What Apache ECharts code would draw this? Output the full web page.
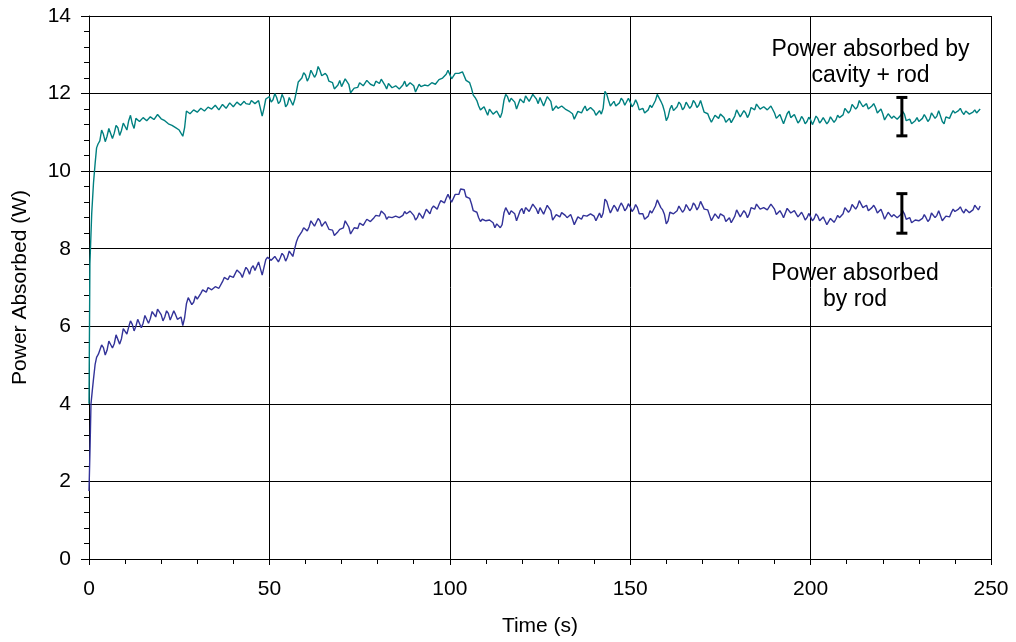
<!DOCTYPE html>
<html><head><meta charset="utf-8">
<script src="https://cdn.jsdelivr.net/npm/echarts@6/dist/echarts.min.js"></script>
<style>html,body{margin:0;padding:0;background:#fff}#c{width:1016px;height:642px}</style>
</head><body><div id="c"></div>
<script>
// Initial fast rise (times in s)
var startTimesTeal = [0, 0.25, 0.75, 1.25, 1.7, 2.1, 2.5];
var startTeal = [4.0, 7.6, 8.9, 9.7, 10.2, 10.6, 10.7];
var startTimesBlue = [0, 0.3, 0.55, 0.9, 1.2, 1.7, 2.1, 2.6];
var startBlue = [1.75, 2.9, 4.0, 4.33, 4.6, 5.02, 5.2, 5.28];
// Main record: values on whole seconds from t = 3 s to t = 247 s
var mainStartTime = 3;
var tealValues = [
10.78,10.95,10.9,11.05,10.98,11.12,11.05,11.2,11.3,11.22,
11.36,11.28,11.38,11.3,11.4,11.33,11.46,11.35,11.3,11.22,
11.18,11.12,11.06,10.9,11.55,11.48,11.58,11.52,11.62,11.55,
11.65,11.6,11.7,11.58,11.72,11.62,11.76,11.66,11.78,11.7,
11.8,11.7,11.82,11.74,11.82,11.42,11.86,11.92,11.84,11.9,
11.8,11.88,11.72,11.86,11.84,12.3,12.4,12.48,12.42,12.58,
12.5,12.6,12.5,12.46,12.3,12.12,12.22,12.18,12.38,12.24,
12.0,12.16,12.28,12.2,12.34,12.24,12.2,12.3,12.37,12.22,
12.26,12.15,12.2,12.12,12.22,12.18,12.28,12.2,12.08,12.18,
12.22,12.2,12.28,12.24,12.36,12.4,12.5,12.58,12.34,12.5,
12.56,12.52,12.3,12.14,11.9,11.68,11.62,11.55,11.6,11.47,
11.55,11.38,11.82,11.92,11.88,11.78,11.6,11.9,11.94,11.8,
11.98,11.86,11.9,11.68,11.92,11.8,11.56,11.62,11.68,11.6,
11.55,11.48,11.38,11.52,11.6,11.56,11.64,11.55,11.5,11.47,
12.06,11.82,11.74,11.68,11.76,11.82,11.75,11.78,11.72,11.74,
11.6,11.5,11.58,11.64,11.82,12.02,11.7,11.3,11.6,11.56,
11.66,11.72,11.64,11.74,11.68,11.76,11.7,11.78,11.48,11.36,
11.29,11.4,11.47,11.38,11.3,11.25,11.42,11.55,11.44,11.5,
11.47,11.62,11.73,11.6,11.66,11.58,11.68,11.5,11.4,11.34,
11.25,11.55,11.4,11.35,11.3,11.34,11.28,11.32,11.3,11.36,
11.3,11.33,11.28,11.35,11.32,11.38,11.45,11.62,11.56,11.7,
11.66,11.8,11.7,11.6,11.68,11.64,11.55,11.48,11.34,11.45,
11.42,11.34,11.44,11.47,11.32,11.22,11.3,11.28,11.36,11.38,
11.34,11.47,11.42,11.52,11.22,11.4,11.47,11.5,11.56,11.52,
11.55,11.47,11.52,11.5,11.6
];
// Half-second readings between them (t = 3.5 s ... 246.5 s)
var tealHalf = [
11.06,10.76,11.1,10.84,11.18,10.92,11.24,11.06,11.44,11.1,
11.38,11.32,11.34,11.34,11.38,11.36,11.42,11.32,11.32,11.18,
11.18,11.08,11.08,11.12,11.53,11.52,11.58,11.52,11.58,11.58,
11.62,11.6,11.68,11.58,11.68,11.66,11.72,11.68,11.74,11.7,
11.74,11.72,11.8,11.76,11.78,11.62,11.88,11.78,12.0,11.74,
11.98,11.66,11.9,11.7,12.06,12.28,12.54,12.32,12.6,12.42,
12.7,12.46,12.52,12.32,12.28,12.08,12.34,12.22,12.38,12.02,
12.14,12.16,12.3,12.22,12.34,12.22,12.32,12.26,12.38,12.12,
12.3,12.12,12.22,12.12,12.32,12.18,12.3,12.04,12.24,12.14,
12.24,12.18,12.3,12.24,12.38,12.38,12.6,12.38,12.52,12.52,
12.56,12.34,12.28,11.96,11.82,11.58,11.66,11.44,11.64,11.44,
11.52,11.52,11.98,11.78,11.9,11.6,11.86,11.76,11.94,11.84,
11.98,11.74,11.86,11.72,11.94,11.56,11.68,11.6,11.7,11.56,
11.58,11.34,11.54,11.5,11.68,11.52,11.66,11.44,11.56,11.62,
11.98,11.68,11.8,11.64,11.88,11.7,11.88,11.66,11.84,11.58,
11.62,11.48,11.7,11.64,11.98,11.8,11.54,11.4,11.7,11.52,
11.78,11.58,11.78,11.62,11.82,11.64,11.82,11.52,11.48,11.26,
11.44,11.36,11.5,11.26,11.36,11.24,11.58,11.4,11.56,11.38,
11.64,11.58,11.74,11.56,11.7,11.56,11.66,11.36,11.46,11.22,
11.48,11.38,11.46,11.24,11.41,11.22,11.39,11.2,11.42,11.24,
11.38,11.22,11.4,11.26,11.44,11.34,11.62,11.5,11.72,11.6,
11.82,11.66,11.74,11.56,11.74,11.5,11.6,11.32,11.48,11.36,
11.46,11.32,11.54,11.3,11.34,11.18,11.38,11.24,11.46,11.28,
11.5,11.36,11.56,11.28,11.4,11.36,11.56,11.46,11.62,11.46,
11.58,11.42,11.58,11.48
];
var blueValues = [
5.3,5.45,5.38,5.6,5.55,5.75,5.68,5.92,5.98,6.05,
6.0,6.14,6.08,6.26,6.2,6.34,6.44,6.3,6.24,6.33,
6.28,6.3,6.22,6.02,6.58,6.72,6.62,6.7,6.85,6.9,
7.0,6.94,7.02,6.98,7.15,7.22,7.3,7.26,7.45,7.36,
7.4,7.46,7.5,7.44,7.66,7.32,7.72,7.74,7.68,7.78,
7.76,7.82,7.78,7.92,8.0,8.3,8.44,8.5,8.56,8.7,
8.62,8.72,8.64,8.66,8.48,8.34,8.44,8.5,8.72,8.56,
8.4,8.5,8.66,8.6,8.76,8.7,8.8,8.84,8.97,8.88,
8.82,8.8,8.84,8.8,8.86,8.9,8.97,8.86,8.8,8.86,
8.9,8.96,9.04,9.06,9.14,9.2,9.3,9.4,9.2,9.4,
9.54,9.52,9.3,9.16,8.98,8.8,8.76,8.72,8.74,8.67,
8.64,8.54,8.92,9.02,8.98,8.9,8.76,9.04,9.06,8.96,
9.15,9.02,9.06,8.89,9.12,8.98,8.72,8.84,8.93,8.86,
8.85,8.76,8.67,8.8,8.86,8.84,8.9,8.84,8.82,8.8,
9.28,9.06,9.02,9.06,9.08,9.1,9.04,9.08,9.02,9.06,
8.9,8.76,8.84,8.92,9.1,9.28,9.0,8.64,8.94,8.9,
8.98,9.06,9.0,9.1,9.04,9.12,9.08,9.18,9.02,8.86,
8.76,8.84,8.9,8.84,8.74,8.67,8.84,8.97,8.86,8.92,
8.89,9.04,9.15,9.02,9.06,9.0,9.15,9.02,8.93,8.9,
8.85,9.08,8.93,8.9,8.88,8.85,8.8,8.82,8.78,8.84,
8.76,8.72,8.67,8.74,8.76,8.8,8.9,9.04,9.0,9.12,
9.1,9.19,9.1,8.98,9.06,9.04,8.97,8.9,8.8,8.92,
8.88,8.8,8.88,8.9,8.78,8.67,8.74,8.72,8.78,8.8,
8.76,8.89,8.86,8.93,8.67,8.84,8.93,8.96,9.02,8.98,
9.02,8.93,9.0,9.06,9.1
];
var blueHalf = [
5.52,5.26,5.62,5.44,5.78,5.54,5.94,5.8,6.14,5.88,
6.18,5.96,6.28,6.08,6.38,6.24,6.48,6.14,6.4,6.16,
6.4,6.18,6.24,6.22,6.74,6.56,6.78,6.7,6.94,6.88,
6.98,6.92,7.02,7.02,7.26,7.2,7.3,7.28,7.5,7.26,
7.52,7.34,7.56,7.48,7.68,7.52,7.78,7.7,7.8,7.66,
7.88,7.68,7.94,7.8,8.18,8.32,8.54,8.46,8.72,8.58,
8.78,8.58,8.7,8.5,8.48,8.32,8.5,8.54,8.72,8.38,
8.54,8.52,8.7,8.62,8.8,8.7,8.86,8.84,8.98,8.76,
8.86,8.78,8.86,8.76,8.96,8.86,8.98,8.74,8.92,8.78,
9.02,8.9,9.1,9.02,9.24,9.18,9.4,9.2,9.4,9.4,
9.56,9.34,9.3,8.98,8.94,8.7,8.78,8.68,8.78,8.54,
8.68,8.62,9.06,8.88,9.02,8.72,8.98,8.9,9.08,8.98,
9.14,8.9,9.02,8.92,9.12,8.74,8.88,8.82,8.96,8.8,
8.88,8.62,8.82,8.76,8.9,8.8,8.94,8.72,8.92,8.92,
9.22,8.92,9.12,8.96,9.18,8.98,9.16,8.96,9.14,8.9,
8.9,8.72,8.98,8.92,9.26,9.06,8.88,8.72,8.98,8.88,
9.1,8.94,9.14,8.98,9.18,9.0,9.22,9.02,9.0,8.72,
8.9,8.78,8.94,8.7,8.8,8.68,9.0,8.82,8.98,8.8,
9.06,9.02,9.16,8.98,9.1,9.0,9.16,8.88,8.98,8.8,
9.04,8.92,8.98,8.82,8.94,8.74,8.91,8.72,8.9,8.72,
8.82,8.62,8.78,8.68,8.86,8.76,9.06,8.94,9.14,9.02,
9.24,9.06,9.12,8.94,9.12,8.92,9.02,8.76,8.94,8.82,
8.92,8.76,8.98,8.76,8.8,8.64,8.78,8.68,8.88,8.7,
8.92,8.8,8.98,8.72,8.84,8.82,9.02,8.92,9.08,8.92,
9.06,8.88,9.12,9.0
];
// Error bars: [time, low, high]
var errorBarTeal = [225.3, 10.91, 11.9];
var errorBarBlue = [225.3, 8.40, 9.42];
var xTicks = [0, 50, 100, 150, 200, 250];
var yTicks = [0, 2, 4, 6, 8, 10, 12, 14];
var annotations = [
  ["Power absorbed by", "cavity + rod"],
  ["Power absorbed", "by rod"]
];

function build(times, vals, t0, main, half) {
  var out = [];
  for (var i = 0; i < times.length; i++) out.push([times[i], vals[i]]);
  for (var j = 0; j < main.length; j++) {
    out.push([t0 + j, main[j]]);
    if (j < half.length) out.push([t0 + j + 0.5, half[j]]);
  }
  return out;
}
var tealData = build(startTimesTeal, startTeal, mainStartTime, tealValues, tealHalf);
var blueData = build(startTimesBlue, startBlue, mainStartTime, blueValues, blueHalf);

var FONT = 'Liberation Sans, Arial, sans-serif';
var chart = echarts.init(document.getElementById('c'), null, {renderer: 'canvas'});

function errRender(params, api) {
  var x = api.value(0), lo = api.value(1), hi = api.value(2);
  var p1 = api.coord([x, lo]), p2 = api.coord([x, hi]);
  var w = 5.5;
  var st = {stroke: '#000', lineWidth: 3};
  return {type: 'group', children: [
    {type: 'line', shape: {x1: p1[0], y1: p1[1], x2: p2[0], y2: p2[1]}, style: st},
    {type: 'line', shape: {x1: p1[0]-w, y1: p1[1], x2: p1[0]+w, y2: p1[1]}, style: st},
    {type: 'line', shape: {x1: p2[0]-w, y1: p2[1], x2: p2[0]+w, y2: p2[1]}, style: st}
  ]};
}

chart.setOption({
  animation: false,
  backgroundColor: '#fff',
  grid: {left: 89, top: 16, width: 902, height: 543, containLabel: false},
  xAxis: {
    type: 'value', min: xTicks[0], max: xTicks[xTicks.length-1], interval: 50,
    name: 'Time (s)', nameLocation: 'middle', nameGap: 57,
    nameTextStyle: {fontFamily: FONT, fontSize: 21, color: '#000'},
    axisLine: {show: true, lineStyle: {color: '#000', width: 1}},
    axisTick: {show: true, length: 6, lineStyle: {color: '#000'}},
    minorTick: {show: true, splitNumber: 5, length: 5, lineStyle: {color: '#000'}},
    axisLabel: {fontFamily: FONT, fontSize: 21, color: '#000', margin: 20},
    splitLine: {show: true, lineStyle: {color: '#000', width: 1}}
  },
  yAxis: {
    type: 'value', min: yTicks[0], max: yTicks[yTicks.length-1], interval: 2,
    name: 'Power Absorbed (W)', nameLocation: 'middle', nameGap: 58,
    nameTextStyle: {fontFamily: FONT, fontSize: 21, color: '#000'},
    axisLine: {show: true, lineStyle: {color: '#000', width: 1}},
    axisTick: {show: true, length: 8, lineStyle: {color: '#000'}},
    minorTick: {show: true, splitNumber: 5, length: 5, lineStyle: {color: '#000'}},
    axisLabel: {fontFamily: FONT, fontSize: 21, color: '#000', margin: 18},
    splitLine: {show: true, lineStyle: {color: '#000', width: 1}}
  },
  graphic: [
    {type: 'text', left: 770, top: 37, style: {text: annotations[0][0] + '\n' + annotations[0][1], font: '23px ' + FONT, fill: '#000', textAlign: 'center', lineHeight: 26, width: 201}},
    {type: 'text', left: 770, top: 261, style: {text: annotations[1][0] + '\n' + annotations[1][1], font: '23px ' + FONT, fill: '#000', textAlign: 'center', lineHeight: 26, width: 170}}
  ],
  series: [
    {type: 'line', data: tealData, showSymbol: false, symbol: 'none', lineStyle: {color: '#008080', width: 1.4}, z: 3},
    {type: 'line', data: blueData, showSymbol: false, symbol: 'none', lineStyle: {color: '#333399', width: 1.4}, z: 3},
    {type: 'custom', renderItem: errRender, data: [errorBarTeal, errorBarBlue], z: 5}
  ]
});
</script></body></html>
